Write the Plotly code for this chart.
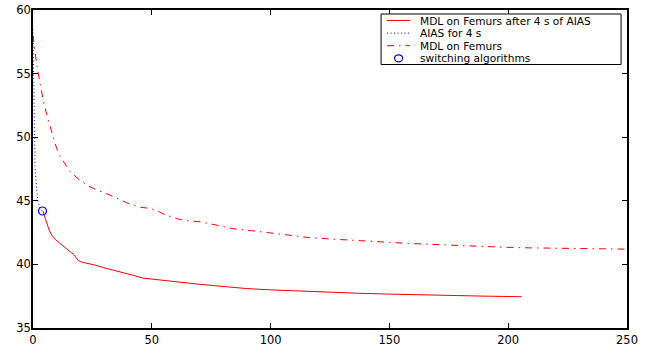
import plotly.graph_objects as go

# ---- data ----
mdl_x = [0, 1.5, 3, 4.3, 6, 7.2, 8.5, 10, 11.4, 13.5, 15.6, 19.8, 23, 26.8, 32.4, 39.4, 45, 49.2, 52, 55,
         58, 60.5, 64, 70.3, 77, 84.3, 92, 101, 108, 116.6, 125, 133.4, 141, 150.3, 158, 167, 177, 188,
         198, 209, 220, 230, 240, 250]
mdl_y = [58.0, 55.8, 54.2, 52.9, 51.6, 50.8, 49.9, 49.1, 48.5, 47.9, 47.3, 46.6, 46.2, 45.85, 45.45, 44.85,
         44.5, 44.4, 44.25, 43.95, 43.75, 43.6, 43.45, 43.35, 43.1, 42.8, 42.65, 42.45, 42.3, 42.1, 42.0,
         41.9, 41.8, 41.7, 41.65, 41.58, 41.5, 41.4, 41.35, 41.3, 41.28, 41.26, 41.23, 41.2]

after_x = [4, 4.3, 5, 5.8, 6.8, 7.9, 9.5, 11.4, 13.5, 15.6, 16.3, 17, 18, 19.1, 20.5, 22.6, 26, 29.6, 34,
           38, 42, 46.4, 52, 57.7, 63, 68.9, 75, 82.9, 90, 99.7, 112, 125, 137, 148.9, 163, 176.9, 191, 205.7]
after_y = [44.2, 44.15, 43.7, 43.2, 42.7, 42.3, 41.95, 41.65, 41.3, 40.95, 40.9, 40.8, 40.6, 40.3, 40.18,
           40.1, 39.95, 39.75, 39.55, 39.35, 39.15, 38.92, 38.8, 38.64, 38.55, 38.46, 38.35, 38.2, 38.1,
           38.0, 37.9, 37.8, 37.73, 37.67, 37.6, 37.54, 37.5, 37.46]

aias_x = [0, 0.2, 0.4, 0.6, 0.85, 1.3, 2, 2.7, 3.3, 4]
aias_y = [58.5, 55.5, 52.5, 49.5, 47.7, 46.4, 45.1, 44.5, 44.3, 44.2]

switch_x = [4]
switch_y = [44.2]

legend_labels = ["MDL on Femurs after 4 s of AIAS", "AIAS for 4 s", "MDL on Femurs", "switching algorithms"]

x_ticks = [0, 50, 100, 150, 200, 250]
y_ticks = [35, 40, 45, 50, 55, 60]

RED = "#ff0000"
BLUE = "#0000ff"
DASHDOT = "7px,5px,1.5px,5px"
DOTTED = "1px,2.5px"
FONT = "DejaVu Sans"

fig = go.Figure()
fig.add_trace(go.Scatter(x=after_x, y=after_y, mode="lines", line=dict(color=RED, width=1),
                         name=legend_labels[0], showlegend=False))
fig.add_trace(go.Scatter(x=aias_x, y=aias_y, mode="lines", line=dict(color=BLUE, width=1, dash=DOTTED),
                         name=legend_labels[1], showlegend=False))
fig.add_trace(go.Scatter(x=mdl_x, y=mdl_y, mode="lines", line=dict(color=RED, width=1, dash=DASHDOT),
                         name=legend_labels[2], showlegend=False))
fig.add_trace(go.Scatter(x=switch_x, y=switch_y, mode="markers",
                         marker=dict(symbol="circle-open", size=8, color=BLUE, line=dict(width=1.2)),
                         name=legend_labels[3], showlegend=False))

# ---- manual compact legend (MATLAB style) ----
# plot area spans 318 px vertically (y=10..328)
H = 318.0
def py(p):
    return (328.0 - p) / H

row_px = [20.5, 33.1, 45.7, 58.3]
row_y = [py(p) for p in row_px]
box = dict(x0=0.586, x1=0.990, y0=py(64.5), y1=py(14))
sx0, sx1, tx = 0.596, 0.635, 0.650
shapes = [dict(type="rect", xref="paper", yref="paper", line=dict(color="black", width=1),
               fillcolor="white", layer="above", **box)]
styles = [dict(color=RED, width=1), dict(color=BLUE, width=1, dash=DOTTED),
          dict(color=RED, width=1, dash=DASHDOT)]
for i in range(3):
    shapes.append(dict(type="line", xref="paper", yref="paper", x0=sx0, x1=sx1, y0=row_y[i], y1=row_y[i],
                       line=styles[i], layer="above"))
cx = (sx0 + sx1) / 2
shapes.append(dict(type="circle", xref="paper", yref="paper", x0=cx - 0.0068, x1=cx + 0.0068,
                   y0=row_y[3] - 0.011, y1=row_y[3] + 0.011, line=dict(color=BLUE, width=1.2), layer="above"))
annotations = [dict(x=tx, y=row_y[i], xref="paper", yref="paper", text=legend_labels[i], showarrow=False,
                    xanchor="left", yanchor="middle", borderpad=0,
                    font=dict(family=FONT, size=10.6, color="black"))
               for i in range(4)]

axis_common = dict(showgrid=False, zeroline=False, showline=True, linecolor="black", linewidth=1.5,
                   mirror="ticks", ticks="inside", ticklen=5, tickwidth=1, tickcolor="black",
                   automargin=False,
                   tickfont=dict(family=FONT, size=11.5, color="black"))
fig.update_layout(
    width=647, height=346,
    margin=dict(l=33, r=20, t=10, b=18),
    paper_bgcolor="white", plot_bgcolor="white",
    xaxis=dict(range=[0, 250], tickvals=x_ticks, **axis_common),
    yaxis=dict(range=[35, 60], tickvals=y_ticks, ticklabelstandoff=-2, **axis_common),
    shapes=shapes, annotations=annotations, showlegend=False,
)
fig.write_html("out.html")
